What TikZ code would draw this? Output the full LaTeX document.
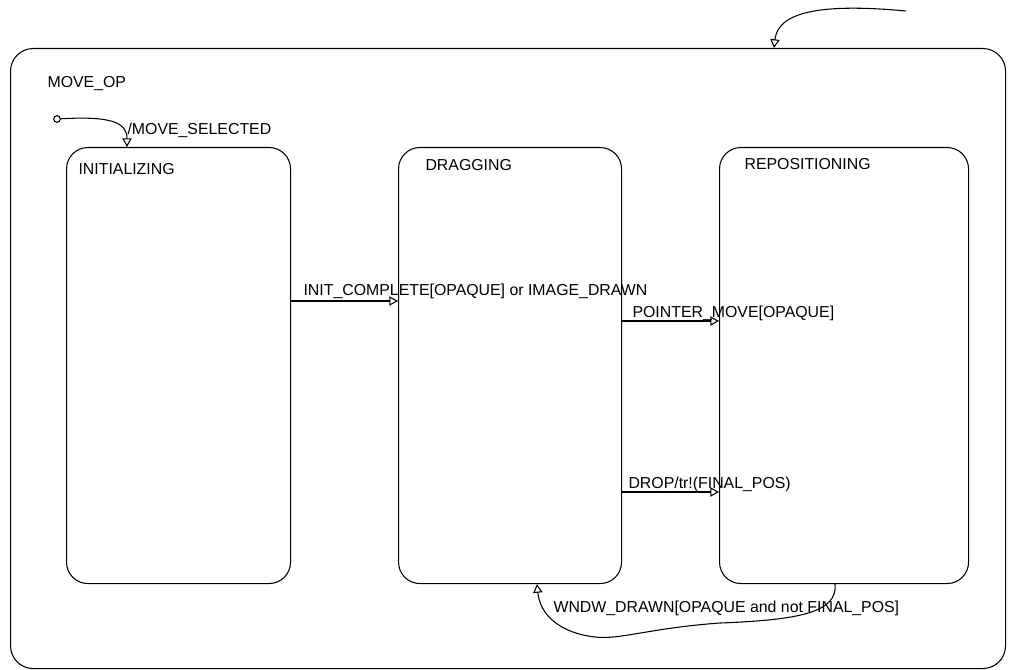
\documentclass[tikz,border=0pt]{standalone}
\usepackage{fontspec}
\setmainfont{Liberation Sans}
\usetikzlibrary{arrows.meta}

\begin{document}
\begin{tikzpicture}[x=0.75pt, y=-0.75pt, line width=0.8pt,
    every node/.style={font=\fontsize{11.9}{14}\selectfont},
    frame/.style={draw, rounded corners=17pt, anchor=north west, inner sep=0pt},
    state/.style={draw, rounded corners=16pt, anchor=north west, inner sep=0pt, minimum height=327pt},
    txt/.style={anchor=base west, inner sep=0pt},
    trans/.style={-{Triangle[open, length=6.5pt, width=7pt]}},
    start/.style={draw, circle, inner sep=0pt, minimum size=5pt}]
    \useasboundingbox (0,0) rectangle (1009,670);
    \node[frame, minimum width=746.25pt, minimum height=465pt] (moveop) at (10,48) {};
    \node[txt] (moveoptxt) at (47,88) {MOVE\_OP};
    \node[state, minimum width=168pt] (initializing) at (66,147) {};
    \node[state, minimum width=167.25pt] (dragging) at (398,147) {};
    \node[state, minimum width=186.75pt] (repositioning) at (719,147) {};
    \node[txt] (inittxt) at (78,175) {INITIALIZING};
    \node[txt] (dragtxt) at (425,171) {DRAGGING};
    \node[txt] (repotxt) at (744,170) {REPOSITIONING};
    % entry into MOVE_OP
    \coordinate (entry) at (906,11);
    \draw[trans] (entry) .. controls (820,3) and (778,12) .. (moveop.north -| 774,0);
    % initial
    \node[start] (init0) at (57,119) {};
    \draw[trans] (init0) .. controls (110,116) and (127,122) .. (initializing.north -| 127,0);
    \node[txt] (seltxt) at (127,135) {/MOVE\_SELECTED};
    % transitions
    \draw[trans] (initializing.east |- 0,301) -- (dragging.west |- 0,301);
    \node[txt] (completetxt) at (303,295) {INIT\_COMPLETE[OPAQUE] or IMAGE\_DRAWN};
    \draw[trans] (dragging.east |- 0,321) -- (repositioning.west |- 0,321);
    \node[txt] (pointertxt) at (632,317) {POINTER\_MOVE[OPAQUE]};
    \draw[trans] (dragging.east |- 0,492) -- (repositioning.west |- 0,492);
    \node[txt] (droptxt) at (628,488) {DROP/tr!(FINAL\_POS)};
    \draw[trans] (repositioning.south -| 835,0) .. controls (838,612) and (800,620) .. (720,623)
        .. controls (650,628) and (620,640) .. (595,637)
        .. controls (560,633) and (540,615) .. (dragging.south -| 537,0);
    \node[txt] (wndwtxt) at (553,612) {WNDW\_DRAWN[OPAQUE and not FINAL\_POS]};
\end{tikzpicture}
\end{document}
